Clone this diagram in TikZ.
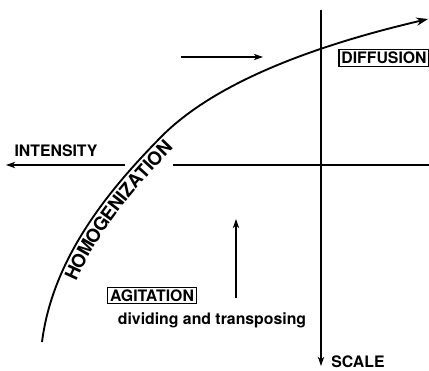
\documentclass[tikz,border=0pt]{standalone}
\usepackage{fontspec}
\setmainfont{TeX Gyre Heros}
\usetikzlibrary{arrows.meta,decorations.text}
\newcommand{\homfont}{\bfseries\fontsize{15.8}{18}\selectfont}

\begin{document}
\begin{tikzpicture}[x=0.03cm, y=-0.03cm,
      axis/.style={line width=1.1pt, -{Stealth[length=8pt,width=5.5pt]}},
      thin arr/.style={line width=1pt, -{Stealth[length=8pt,width=5.5pt]}},
      curve/.style={line width=1.6pt, -{Stealth[length=10pt,width=7pt]}},
      lbl/.style={font=\bfseries\fontsize{13.5}{16}\selectfont, inner sep=0pt},
      boxlbl/.style={lbl, draw, line width=1pt, inner sep=2pt}
    ]
    \useasboundingbox (0,0) rectangle (429,370);
    % axes
    \coordinate (vtop) at (321,10);
    \coordinate (vbot) at (321,366);
    \coordinate (hleft) at (6,165);
    \coordinate (hcut) at (125,165);
    \coordinate (hgap) at (173,165);
    \coordinate (hright) at (429,165);
    \draw[axis] (vtop) -- (vbot);
    \draw[axis] (hcut) -- (hleft);
    \draw[line width=1.1pt] (hgap) -- (hright);
    % curve, with its label set along it
    \coordinate (cstart) at (42,342);
    \coordinate (cmid) at (160,138);
    \coordinate (cend) at (428,19);
    \draw[curve] (cstart) .. controls (53,255) and (113,186) .. (cmid)
                          .. controls (216,80.4) and (321,44) .. (cend);
    \path[decorate, decoration={text along path,
          text={|\homfont|HOMOGENIZATION},
          text align={left, left indent=60pt}, raise=-14.5pt}]
      (cstart) .. controls (53,255) and (113,186) .. (cmid)
               .. controls (216,80.4) and (321,44) .. (cend);
    % small arrows
    \coordinate (ra) at (181,57);
    \coordinate (rb) at (263,57);
    \coordinate (ua) at (236,298);
    \coordinate (ub) at (236,219);
    \draw[thin arr] (ra) -- (rb);
    \draw[thin arr] (ua) -- (ub);
    % labels
    \node[lbl] (intensity) at (56,151) {INTENSITY};
    \node[lbl] (scale) at (358,362) {SCALE};
    \node[boxlbl] (diffusion) at (384,58) {DIFFUSION};
    \node[boxlbl] (agitation) at (152,295.5) {AGITATION};
    \node[lbl] (dividing) at (212,320) {dividing and transposing};
  \end{tikzpicture}
\end{document}
